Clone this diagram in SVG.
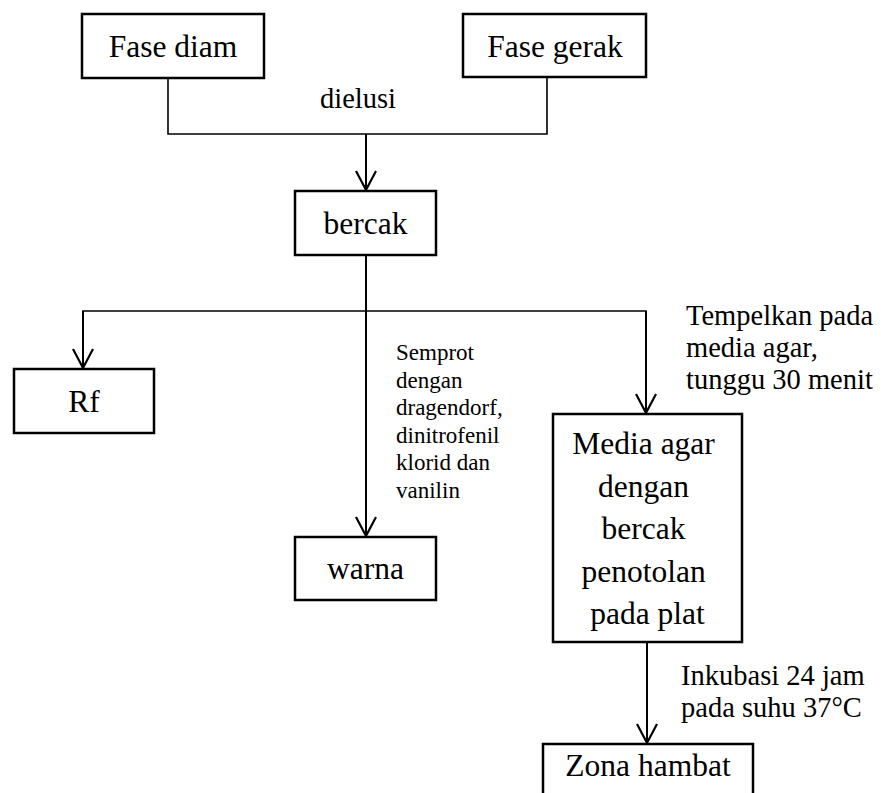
<svg xmlns="http://www.w3.org/2000/svg" width="883" height="793" viewBox="0 0 883 793">
  <style>
    .box { fill: #ffffff; stroke: #000000; stroke-width: 2.5; }
    .node-text { font-size: 31.5px; text-anchor: middle; }
    .label { font-size: 28.5px; }
    .label-small { font-size: 23px; }
    .line { fill: none; stroke: #000000; stroke-width: 1.6; }
    .arrow { fill: none; stroke: #000000; stroke-width: 2; marker-end: url(#openArrow); }
  </style>
  <defs>
    <marker id="openArrow" markerUnits="userSpaceOnUse" markerWidth="26" markerHeight="26" viewBox="-22 -13 26 26" refX="0" refY="0" orient="auto" overflow="visible">
      <path d="M -19 -10 L 0 0 L -19 10" fill="none" stroke="#000000" stroke-width="2.2"/>
    </marker>
  </defs>
  <rect width="883" height="793" fill="#ffffff"/>

  <!-- connectors -->
  <g id="connectors">
    <!-- both phases merge and run down to the spot -->
    <polyline class="line" points="168,78 168,134 547,134 547,77"/>
    <line class="arrow" x1="366" y1="134" x2="366" y2="190"/>
    <!-- branches from the spot -->
    <line class="arrow" x1="366" y1="255" x2="366" y2="536"/>
    <polyline class="line" points="83,350 83,311 646,311 646,350"/>
    <line class="arrow" x1="83" y1="311" x2="83" y2="368"/>
    <line class="arrow" x1="646" y1="311" x2="646" y2="413"/>
    <!-- incubation step -->
    <line class="arrow" x1="647" y1="642" x2="647" y2="743"/>
  </g>

  <g id="nodes" font-family="Liberation Serif, Times New Roman, serif" fill="#000000">
  <g id="fase-diam">
    <rect class="box" x="82" y="14" width="182" height="64"/>
    <text class="node-text" x="173" y="57">Fase diam</text>
  </g>
  <g id="fase-gerak">
    <rect class="box" x="463" y="14" width="183" height="63"/>
    <text class="node-text" x="555" y="57">Fase gerak</text>
  </g>
  <g id="label-dielusi">
    <text class="label" x="358" y="108" text-anchor="middle">dielusi</text>
  </g>
  <g id="bercak">
    <rect class="box" x="295" y="191" width="141" height="64"/>
    <text class="node-text" x="365.5" y="234">bercak</text>
  </g>
  <g id="rf">
    <rect class="box" x="14" y="369" width="140" height="64"/>
    <text class="node-text" x="84" y="412">Rf</text>
  </g>
  <g id="label-semprot">
    <text class="label-small" x="396">
      <tspan x="396" y="360">Semprot</tspan>
      <tspan x="396" y="387.6">dengan</tspan>
      <tspan x="396" y="415.2">dragendorf,</tspan>
      <tspan x="396" y="442.8">dinitrofenil</tspan>
      <tspan x="396" y="470.4">klorid dan</tspan>
      <tspan x="396" y="498">vanilin</tspan>
    </text>
  </g>
  <g id="warna">
    <rect class="box" x="295" y="537" width="141" height="63"/>
    <text class="node-text" x="365.5" y="579">warna</text>
  </g>
  <g id="label-tempelkan">
    <text class="label">
      <tspan x="686" y="325">Tempelkan pada</tspan>
      <tspan x="686" y="357">media agar,</tspan>
      <tspan x="686" y="389">tunggu 30 menit</tspan>
    </text>
  </g>
  <g id="media-agar">
    <rect class="box" x="553" y="414" width="189" height="228"/>
    <text class="node-text">
      <tspan x="647.5" y="454">Media agar</tspan>
      <tspan x="647.5" y="496.5">dengan</tspan>
      <tspan x="647.5" y="539">bercak</tspan>
      <tspan x="647.5" y="581.5">penotolan</tspan>
      <tspan x="647.5" y="624">pada plat</tspan>
    </text>
  </g>
  <g id="label-inkubasi">
    <text class="label">
      <tspan x="681" y="685">Inkubasi 24 jam</tspan>
      <tspan x="681" y="717">pada suhu 37°C</tspan>
    </text>
  </g>
  <g id="zona-hambat">
    <rect class="box" x="543" y="744" width="210" height="60"/>
    <text class="node-text" x="648" y="776">Zona hambat</text>
  </g>
  </g>
</svg>
